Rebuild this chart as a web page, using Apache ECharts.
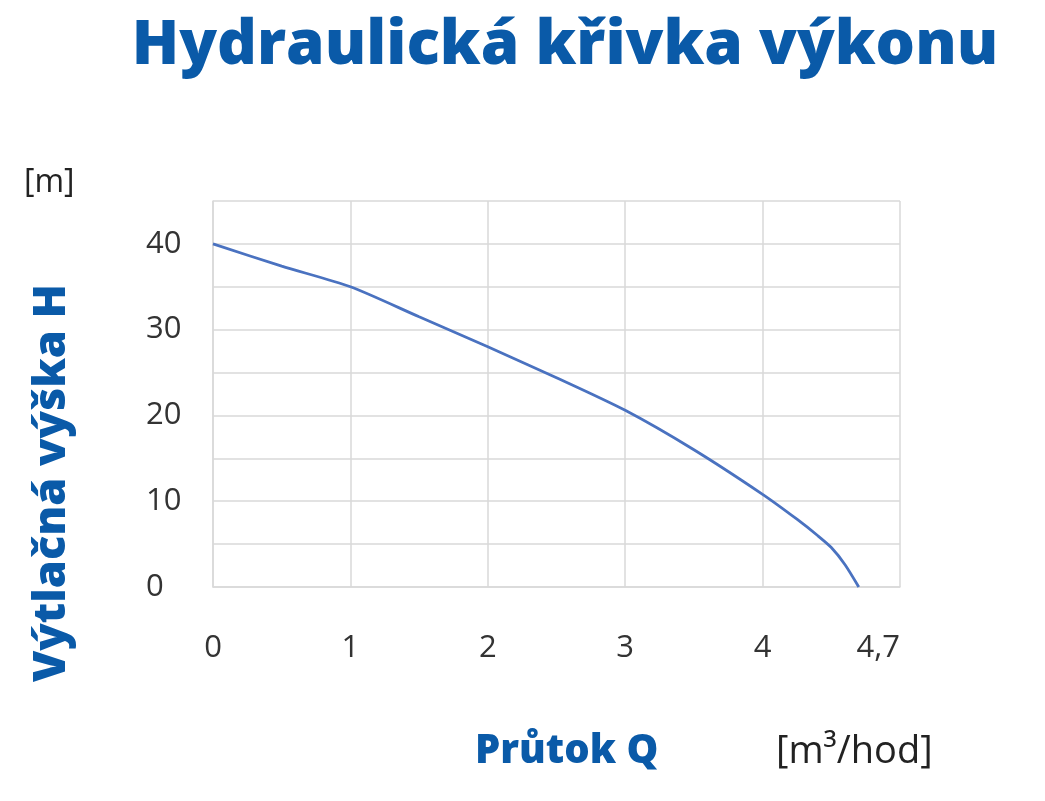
<!DOCTYPE html>
<html><head><meta charset="utf-8">
<script src="https://cdn.jsdelivr.net/npm/echarts@6/dist/echarts.min.js"></script>
<style>html,body{margin:0;padding:0;background:#fff}#c{width:1045px;height:801px}</style>
</head><body><div id="c"></div>
<script>
const flowQ = [0, 0.5, 1, 1.5, 2, 2.5, 3, 3.5, 4, 4.25, 4.4, 4.5, 4.6, 4.7];
const headH = [40, 37.4, 35.0, 31.5, 28.0, 24.4, 20.6, 16.0, 10.8, 7.9, 6.0, 4.6, 2.6, 0];
const xTicks = {0:'0',1:'1',2:'2',3:'3',4:'4',5:'4,7'};
const yTickLabels = [0, 10, 20, 30, 40];

const blue = '#0a5aa8';
const chart = echarts.init(document.getElementById('c'));
chart.setOption({
  animation: false,
  grid: {left: 213, right: 145, top: 201, bottom: 214},
  xAxis: {
    type: 'value', min: 0, max: 5, interval: 1,
    axisLine: {lineStyle: {color: '#d9d9d9', width: 1.5}},
    axisTick: {show: false},
    splitLine: {lineStyle: {color: '#d9d9d9', width: 1.5}},
    axisLabel: {
      formatter: v => xTicks[v] !== undefined ? xTicks[v] : '',
      alignMaxLabel: 'right',
      margin: 46, fontSize: 31, color: '#333', fontFamily: 'Open Sans'
    }
  },
  yAxis: {
    type: 'value', min: 0, max: 45, interval: 5,
    axisLine: {show: true, lineStyle: {color: '#d9d9d9', width: 1.5}},
    axisTick: {show: false},
    splitLine: {lineStyle: {color: '#d9d9d9', width: 1.5}},
    axisLabel: {
      formatter: v => yTickLabels.includes(v) ? String(v) : '',
      align: 'left', margin: 67, fontSize: 31, color: '#333', fontFamily: 'Open Sans'
    }
  },
  graphic: [
    {type: 'text', x: 565, y: 46, style: {text: 'Hydraulická křivka výkonu', fill: blue, font: '800 62px "Open Sans"', align: 'center', verticalAlign: 'middle'}},
    {type: 'text', x: 24, y: 183, style: {text: '[m]', fill: '#222', font: '32px "Open Sans"', verticalAlign: 'middle'}},
    {type: 'text', x: 52, y: 483, rotation: Math.PI/2, style: {text: 'Výtlačná výška H', fill: blue, font: '800 45px "Open Sans"', align: 'center', verticalAlign: 'middle'}},
    {type: 'text', x: 475, y: 752, style: {text: 'Průtok Q', fill: blue, font: '800 40px "Open Sans"', verticalAlign: 'middle'}},
    {type: 'text', x: 776, y: 752, style: {text: '[m³/hod]', fill: '#222', font: '38px "Open Sans"', verticalAlign: 'middle'}}
  ],
  series: [{
    type: 'line', smooth: 0.25, symbol: 'none',
    data: flowQ.map((q, i) => [q, headH[i]]),
    lineStyle: {color: '#4a72c0', width: 2.8}
  }]
});
</script></body></html>
